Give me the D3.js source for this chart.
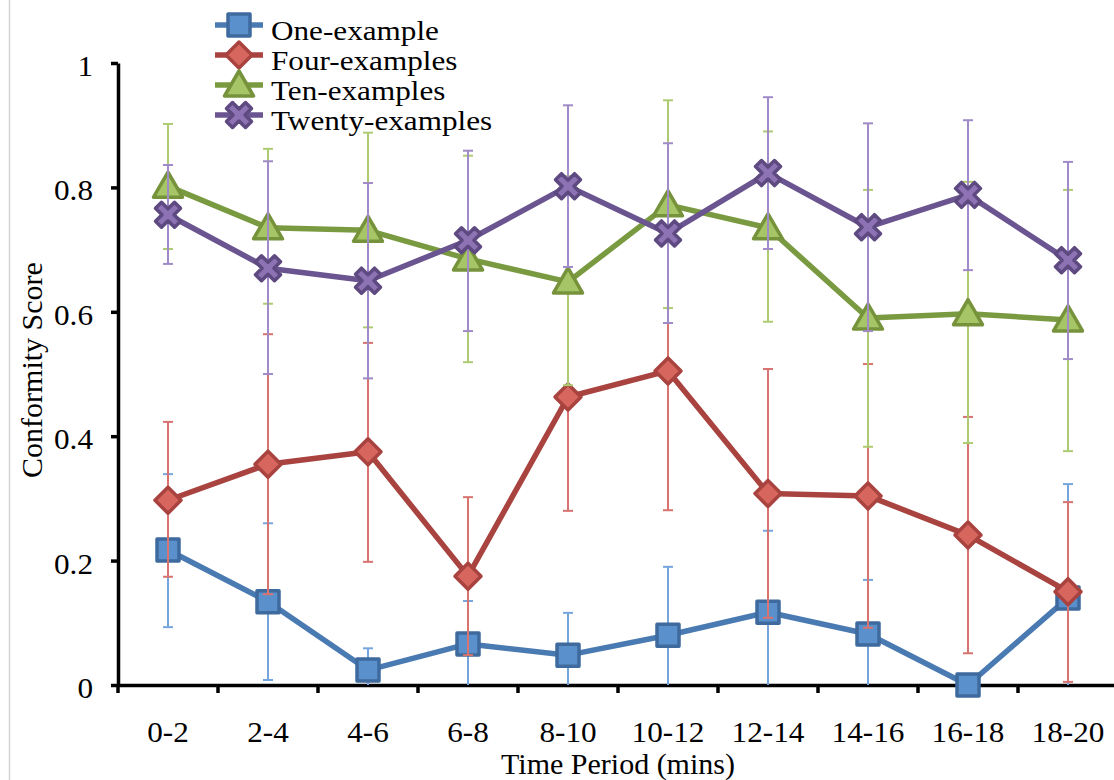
<!DOCTYPE html>
<html>
<head>
<meta charset="utf-8">
<script src="https://cdn.jsdelivr.net/npm/d3@7/dist/d3.min.js"></script>
<style>
  html, body { margin: 0; padding: 0; background: #ffffff; }
  svg { display: block; }
  text { font-family: "Liberation Serif", "Times New Roman", serif; fill: #000; }
</style>
</head>
<body>
<svg id="chart" width="1114" height="780"></svg>
<script>
// Time periods on the x axis
const categories = ["0-2", "2-4", "4-6", "6-8", "8-10", "10-12", "12-14", "14-16", "16-18", "18-20"];

// Mean conformity score per period, with upper / lower error-bar bounds
const oneMean  = [0.217, 0.134, 0.024, 0.066, 0.048, 0.080, 0.117, 0.082, 0.000, 0.140];
const oneHigh  = [0.339, 0.260, 0.059, 0.135, 0.116, 0.190, 0.248, 0.169, 0.000, 0.323];
const oneLow   = [0.093, 0.008, 0.000, 0.000, 0.000, 0.000, 0.000, 0.000, 0.000, 0.000];

const fourMean = [0.297, 0.355, 0.375, 0.175, 0.463, 0.505, 0.308, 0.304, 0.241, 0.150];
const fourHigh = [0.423, 0.564, 0.550, 0.302, 0.646, 0.729, 0.508, 0.516, 0.431, 0.294];
const fourLow  = [0.174, 0.146, 0.198, 0.048, 0.280, 0.281, 0.108, 0.092, 0.051, 0.005];

const tenMean  = [0.802, 0.735, 0.731, 0.685, 0.648, 0.772, 0.735, 0.590, 0.597, 0.587];
const tenHigh  = [0.902, 0.862, 0.888, 0.851, 0.818, 0.940, 0.890, 0.796, 0.809, 0.796];
const tenLow   = [0.701, 0.613, 0.575, 0.519, 0.482, 0.606, 0.584, 0.383, 0.389, 0.376];

const twentyMean = [0.756, 0.670, 0.650, 0.715, 0.802, 0.726, 0.823, 0.736, 0.788, 0.683];
const twentyHigh = [0.836, 0.842, 0.807, 0.859, 0.932, 0.871, 0.945, 0.903, 0.908, 0.841];
const twentyLow  = [0.677, 0.500, 0.493, 0.569, 0.672, 0.582, 0.701, 0.569, 0.667, 0.524];

const seriesNames = ["One-example", "Four-examples", "Ten-examples", "Twenty-examples"];
const yTickValues = [0, 0.2, 0.4, 0.6, 0.8, 1];
const yTickLabels = ["0", "0.2", "0.4", "0.6", "0.8", "1"];
const xTitle = "Time Period (mins)";
const yTitle = "Conformity Score";

// Visual style per series
const styles = [
  { line: "#4a7ab2", fill: "#5a91cd", edge: "#3e6a9e", err: "#74a6dd", shape: "square" },
  { line: "#a9433f", fill: "#d6665e", edge: "#a9433f", err: "#d9736f", shape: "diamond" },
  { line: "#7a9a41", fill: "#a6c566", edge: "#76933c", err: "#adcc72", shape: "triangle" },
  { line: "#6a5590", fill: "#8d72b4", edge: "#5e4a80", err: "#a08ac7", shape: "cross" }
];

const series = [
  { name: seriesNames[0], mean: oneMean, high: oneHigh, low: oneLow },
  { name: seriesNames[1], mean: fourMean, high: fourHigh, low: fourLow },
  { name: seriesNames[2], mean: tenMean, high: tenHigh, low: tenLow },
  { name: seriesNames[3], mean: twentyMean, high: twentyHigh, low: twentyLow }
];

const svg = d3.select("#chart");

const x = d3.scaleBand().domain(categories).range([118, 1118]);
const y = d3.scaleLinear().domain([0, 1]).range([685, 63]);
const cx = c => x(c) + x.bandwidth() / 2;

// Thin frame line on the left edge
svg.append("line")
  .attr("x1", 9.5).attr("x2", 9.5).attr("y1", 0).attr("y2", 780)
  .attr("stroke", "#d4d4d4").attr("stroke-width", 1.5);

// Marker path generators
function markerPath(shape) {
  switch (shape) {
    case "square": return "M-11,-11H11V11H-11Z";
    case "diamond": return "M0,-13L13,0L0,13L-13,0Z";
    case "triangle": return "M0,-14L14.5,11L-14.5,11Z";
    case "cross": {
      const s = 12.5, d = 6;
      return `M${-s},${-s + d}L${-s + d},${-s}L0,${-d}L${s - d},${-s}L${s},${-s + d}L${d},0` +
             `L${s},${s - d}L${s - d},${s}L0,${d}L${-s + d},${s}L${-s},${s - d}L${-d},0Z`;
    }
  }
}

// Axes
const yAxis = d3.axisLeft(y).tickValues(yTickValues).tickFormat("").tickSize(7).tickSizeOuter(0);
const gy = svg.append("g").attr("transform", "translate(118,0)").call(yAxis);
gy.select(".domain").attr("stroke", "#000").attr("stroke-width", 3.5);
gy.selectAll(".tick line").attr("stroke", "#000").attr("stroke-width", 3.5);

const xAxis = d3.axisBottom(x).tickValues([]).tickSizeOuter(0);
const gx = svg.append("g").attr("transform", "translate(0,685)").call(xAxis);
gx.select(".domain").attr("stroke", "#000").attr("stroke-width", 3.5);

// Tick marks on band boundaries of the category axis
const boundaries = categories.map(c => x(c)).concat([x.range()[1]]);
svg.append("g").selectAll("line").data(boundaries).join("line")
  .attr("x1", d => d).attr("x2", d => d)
  .attr("y1", 685).attr("y2", 693)
  .attr("stroke", "#000").attr("stroke-width", 3.5);

// Y tick labels
svg.append("g").selectAll("text").data(yTickValues).join("text")
  .attr("transform", d => `translate(93,${y(d) + 13}) scale(1.04,1)`)
  .attr("text-anchor", "end")
  .style("font-size", "30px")
  .text((d, i) => yTickLabels[i]);

// X tick labels
svg.append("g").selectAll("text").data(categories).join("text")
  .attr("transform", d => `translate(${cx(d)},742) scale(1.04,1)`)
  .attr("text-anchor", "middle")
  .style("font-size", "30px")
  .text(d => d);

// Axis titles
svg.append("text")
  .attr("transform", `translate(${(x.range()[0] + x.range()[1]) / 2},774)`)
  .attr("text-anchor", "middle")
  .style("font-size", "30px")
  .text(xTitle);

svg.append("text")
  .attr("transform", `translate(42,${y(0.5) - 4}) rotate(-90)`)
  .attr("text-anchor", "middle")
  .style("font-size", "30px")
  .text(yTitle);

// Series: error bars, connecting line, markers
const line = d3.line().x(d => cx(d.cat)).y(d => y(d.v));

series.forEach((s, si) => {
  const st = styles[si];
  const pts = categories.map((c, i) => ({ cat: c, v: s.mean[i], hi: s.high[i], lo: s.low[i] }));
  const g = svg.append("g");

  const eb = g.append("g").selectAll("g").data(pts.filter(p => p.hi > p.lo)).join("g");
  eb.append("line")
    .attr("x1", d => cx(d.cat)).attr("x2", d => cx(d.cat))
    .attr("y1", d => y(d.hi)).attr("y2", d => y(d.lo))
    .attr("stroke", st.err).attr("stroke-width", 2);
  eb.append("line")
    .attr("x1", d => cx(d.cat) - 5).attr("x2", d => cx(d.cat) + 5)
    .attr("y1", d => y(d.hi)).attr("y2", d => y(d.hi))
    .attr("stroke", st.err).attr("stroke-width", 2);
  eb.filter(d => d.lo > 0).append("line")
    .attr("x1", d => cx(d.cat) - 5).attr("x2", d => cx(d.cat) + 5)
    .attr("y1", d => y(d.lo)).attr("y2", d => y(d.lo))
    .attr("stroke", st.err).attr("stroke-width", 2);

  g.append("path").datum(pts)
    .attr("d", line)
    .attr("fill", "none")
    .attr("stroke", st.line)
    .attr("stroke-width", 5.5)
    .attr("stroke-linejoin", "round");

  g.append("g").selectAll("path").data(pts).join("path")
    .attr("transform", d => `translate(${cx(d.cat)},${y(d.v)})`)
    .attr("d", markerPath(st.shape))
    .attr("fill", st.fill)
    .attr("stroke", st.edge)
    .attr("stroke-width", 3.5)
    .attr("stroke-linejoin", "round");
});

// Legend
const legend = svg.append("g");
seriesNames.forEach((name, i) => {
  const st = styles[i];
  const cy = 25 + i * 30;
  legend.append("line")
    .attr("x1", 215).attr("x2", 263).attr("y1", cy).attr("y2", cy)
    .attr("stroke", st.line).attr("stroke-width", 5.5);
  legend.append("path")
    .attr("transform", `translate(239,${cy})`)
    .attr("d", markerPath(st.shape))
    .attr("fill", st.fill).attr("stroke", st.edge)
    .attr("stroke-width", 3.5).attr("stroke-linejoin", "round");
  legend.append("text")
    .attr("transform", `translate(271,${cy + 15}) scale(1.155,1)`)
    .style("font-size", "27px")
    .text(name);
});
</script>
</body>
</html>
